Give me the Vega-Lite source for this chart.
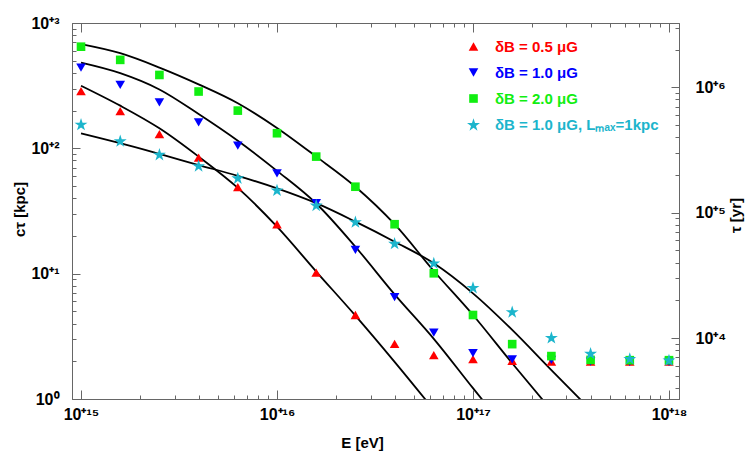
{
  "$schema": "https://vega.github.io/schema/vega-lite/v6.json",
  "width": 607,
  "height": 376,
  "autosize": "none",
  "padding": {"left": 72, "top": 23, "right": 68, "bottom": 63},
  "background": "white",
  "config": {
    "view": {"stroke": null},
    "font": "Liberation Sans",
    "axis": {
      "grid": false,
      "domainColor": "#666",
      "tickColor": "#666",
      "labelFont": "Liberation Sans",
      "labelFontWeight": "bold",
      "labelFontSize": 16,
      "labelColor": "black",
      "labelOverlap": false,
      "labelFlush": false,
      "labelBound": false,
      "titleFont": "Liberation Sans",
      "titleFontWeight": "bold",
      "titleFontSize": 15,
      "titleColor": "black"
    }
  },
  "datasets": {
    "pts": [
      {"series": "δB = 0.5 μG", "E": 1e15, "ctau": 286},
      {"series": "δB = 0.5 μG", "E": 1.585e15, "ctau": 198},
      {"series": "δB = 0.5 μG", "E": 2.512e15, "ctau": 130},
      {"series": "δB = 0.5 μG", "E": 3.981e15, "ctau": 84.3},
      {"series": "δB = 0.5 μG", "E": 6.31e15, "ctau": 49.0},
      {"series": "δB = 0.5 μG", "E": 1e16, "ctau": 24.8},
      {"series": "δB = 0.5 μG", "E": 1.585e16, "ctau": 10.2},
      {"series": "δB = 0.5 μG", "E": 2.512e16, "ctau": 4.68},
      {"series": "δB = 0.5 μG", "E": 3.981e16, "ctau": 2.75},
      {"series": "δB = 0.5 μG", "E": 6.31e16, "ctau": 2.24},
      {"series": "δB = 0.5 μG", "E": 1e17, "ctau": 2.08},
      {"series": "δB = 0.5 μG", "E": 1.585e17, "ctau": 2.02},
      {"series": "δB = 0.5 μG", "E": 2.512e17, "ctau": 1.99},
      {"series": "δB = 0.5 μG", "E": 3.981e17, "ctau": 1.99},
      {"series": "δB = 0.5 μG", "E": 6.31e17, "ctau": 1.99},
      {"series": "δB = 0.5 μG", "E": 1e18, "ctau": 1.99},
      {"series": "δB = 1.0 μG", "E": 1e15, "ctau": 441},
      {"series": "δB = 1.0 μG", "E": 1.585e15, "ctau": 321},
      {"series": "δB = 1.0 μG", "E": 2.512e15, "ctau": 233},
      {"series": "δB = 1.0 μG", "E": 3.981e15, "ctau": 161},
      {"series": "δB = 1.0 μG", "E": 6.31e15, "ctau": 105},
      {"series": "δB = 1.0 μG", "E": 1e16, "ctau": 63.2},
      {"series": "δB = 1.0 μG", "E": 1.585e16, "ctau": 36.5},
      {"series": "δB = 1.0 μG", "E": 2.512e16, "ctau": 15.5},
      {"series": "δB = 1.0 μG", "E": 3.981e16, "ctau": 6.49},
      {"series": "δB = 1.0 μG", "E": 6.31e16, "ctau": 3.38},
      {"series": "δB = 1.0 μG", "E": 1e17, "ctau": 2.32},
      {"series": "δB = 1.0 μG", "E": 1.585e17, "ctau": 2.07},
      {"series": "δB = 1.0 μG", "E": 2.512e17, "ctau": 2.05},
      {"series": "δB = 1.0 μG", "E": 3.981e17, "ctau": 1.99},
      {"series": "δB = 1.0 μG", "E": 6.31e17, "ctau": 1.98},
      {"series": "δB = 1.0 μG", "E": 1e18, "ctau": 1.98},
      {"series": "δB = 2.0 μG", "E": 1e15, "ctau": 647},
      {"series": "δB = 2.0 μG", "E": 1.585e15, "ctau": 508},
      {"series": "δB = 2.0 μG", "E": 2.512e15, "ctau": 385},
      {"series": "δB = 2.0 μG", "E": 3.981e15, "ctau": 284},
      {"series": "δB = 2.0 μG", "E": 6.31e15, "ctau": 200},
      {"series": "δB = 2.0 μG", "E": 1e16, "ctau": 132},
      {"series": "δB = 2.0 μG", "E": 1.585e16, "ctau": 85.9},
      {"series": "δB = 2.0 μG", "E": 2.512e16, "ctau": 49.4},
      {"series": "δB = 2.0 μG", "E": 3.981e16, "ctau": 24.8},
      {"series": "δB = 2.0 μG", "E": 6.31e16, "ctau": 10.07},
      {"series": "δB = 2.0 μG", "E": 1e17, "ctau": 4.68},
      {"series": "δB = 2.0 μG", "E": 1.585e17, "ctau": 2.74},
      {"series": "δB = 2.0 μG", "E": 2.512e17, "ctau": 2.20},
      {"series": "δB = 2.0 μG", "E": 3.981e17, "ctau": 2.05},
      {"series": "δB = 2.0 μG", "E": 6.31e17, "ctau": 2.04},
      {"series": "δB = 2.0 μG", "E": 1e18, "ctau": 2.04},
      {"series": "δB = 1.0 μG, Lₘₐₓ=1kpc", "E": 1e15, "ctau": 156},
      {"series": "δB = 1.0 μG, Lₘₐₓ=1kpc", "E": 1.585e15, "ctau": 115},
      {"series": "δB = 1.0 μG, Lₘₐₓ=1kpc", "E": 2.512e15, "ctau": 89.7},
      {"series": "δB = 1.0 μG, Lₘₐₓ=1kpc", "E": 3.981e15, "ctau": 72.8},
      {"series": "δB = 1.0 μG, Lₘₐₓ=1kpc", "E": 6.31e15, "ctau": 58.2},
      {"series": "δB = 1.0 μG, Lₘₐₓ=1kpc", "E": 1e16, "ctau": 46.6},
      {"series": "δB = 1.0 μG, Lₘₐₓ=1kpc", "E": 1.585e16, "ctau": 35.3},
      {"series": "δB = 1.0 μG, Lₘₐₓ=1kpc", "E": 2.512e16, "ctau": 26.0},
      {"series": "δB = 1.0 μG, Lₘₐₓ=1kpc", "E": 3.981e16, "ctau": 17.5},
      {"series": "δB = 1.0 μG, Lₘₐₓ=1kpc", "E": 6.31e16, "ctau": 12.2},
      {"series": "δB = 1.0 μG, Lₘₐₓ=1kpc", "E": 1e17, "ctau": 7.78},
      {"series": "δB = 1.0 μG, Lₘₐₓ=1kpc", "E": 1.585e17, "ctau": 4.98},
      {"series": "δB = 1.0 μG, Lₘₐₓ=1kpc", "E": 2.512e17, "ctau": 3.10},
      {"series": "δB = 1.0 μG, Lₘₐₓ=1kpc", "E": 3.981e17, "ctau": 2.32},
      {"series": "δB = 1.0 μG, Lₘₐₓ=1kpc", "E": 6.31e17, "ctau": 2.11},
      {"series": "δB = 1.0 μG, Lₘₐₓ=1kpc", "E": 1e18, "ctau": 2.05}
    ],
    "curves": [
      {"curve": "a", "E": 1e15, "ctau": 316},
      {"curve": "a", "E": 1.585e15, "ctau": 219},
      {"curve": "a", "E": 2.512e15, "ctau": 144.5},
      {"curve": "a", "E": 3.981e15, "ctau": 85.9},
      {"curve": "a", "E": 6.31e15, "ctau": 48.3},
      {"curve": "a", "E": 1e16, "ctau": 23.7},
      {"curve": "a", "E": 1.585e16, "ctau": 10.4},
      {"curve": "a", "E": 2.512e16, "ctau": 4.63},
      {"curve": "a", "E": 3.981e16, "ctau": 1.98},
      {"curve": "a", "E": 6.31e16, "ctau": 0.82},
      {"curve": "b", "E": 1e15, "ctau": 483},
      {"curve": "b", "E": 1.585e15, "ctau": 398},
      {"curve": "b", "E": 2.512e15, "ctau": 295},
      {"curve": "b", "E": 3.981e15, "ctau": 188},
      {"curve": "b", "E": 6.31e15, "ctau": 115},
      {"curve": "b", "E": 1e16, "ctau": 66.1},
      {"curve": "b", "E": 1.585e16, "ctau": 36.3},
      {"curve": "b", "E": 2.512e16, "ctau": 16.4},
      {"curve": "b", "E": 3.981e16, "ctau": 6.84},
      {"curve": "b", "E": 6.31e16, "ctau": 3.02},
      {"curve": "b", "E": 1e17, "ctau": 1.22},
      {"curve": "b", "E": 1.585e17, "ctau": 0.5},
      {"curve": "c", "E": 1e15, "ctau": 678},
      {"curve": "c", "E": 1.585e15, "ctau": 574},
      {"curve": "c", "E": 2.512e15, "ctau": 441},
      {"curve": "c", "E": 3.981e15, "ctau": 324},
      {"curve": "c", "E": 6.31e15, "ctau": 229},
      {"curve": "c", "E": 1e16, "ctau": 145.5},
      {"curve": "c", "E": 1.585e16, "ctau": 85.9},
      {"curve": "c", "E": 2.512e16, "ctau": 49.4},
      {"curve": "c", "E": 3.981e16, "ctau": 24.8},
      {"curve": "c", "E": 6.31e16, "ctau": 10.5},
      {"curve": "c", "E": 1e17, "ctau": 4.68},
      {"curve": "c", "E": 1.585e17, "ctau": 1.93},
      {"curve": "c", "E": 2.512e17, "ctau": 0.813},
      {"curve": "d", "E": 1e15, "ctau": 131.8},
      {"curve": "d", "E": 1.585e15, "ctau": 109.9},
      {"curve": "d", "E": 2.512e15, "ctau": 90.2},
      {"curve": "d", "E": 3.981e15, "ctau": 73.6},
      {"curve": "d", "E": 6.31e15, "ctau": 60.3},
      {"curve": "d", "E": 1e16, "ctau": 47.9},
      {"curve": "d", "E": 1.585e16, "ctau": 36.5},
      {"curve": "d", "E": 2.512e16, "ctau": 26.0},
      {"curve": "d", "E": 3.981e16, "ctau": 18.0},
      {"curve": "d", "E": 6.31e16, "ctau": 12.1},
      {"curve": "d", "E": 1e17, "ctau": 6.97},
      {"curve": "d", "E": 1.585e17, "ctau": 3.56},
      {"curve": "d", "E": 2.512e17, "ctau": 1.7},
      {"curve": "d", "E": 3.981e17, "ctau": 0.82}
    ]
  },
  "layer": [
    {
      "data": {"name": "curves"},
      "mark": {"type": "line", "color": "black", "strokeWidth": 1.8, "clip": true, "interpolate": "monotone"},
      "encoding": {
        "x": {
          "field": "E", "type": "quantitative",
          "scale": {"type": "log", "domain": [8.995e14, 1.125e18], "nice": false},
          "axis": {
            "orient": "bottom", "values": [1e15, 1e16, 1e17, 1e18],
            "labelExpr": "datum.value < 5e15 ? '10⁺¹⁵' : datum.value < 5e16 ? '10⁺¹⁶' : datum.value < 5e17 ? '10⁺¹⁷' : '10⁺¹⁸'",
            "tickSize": -9, "labelPadding": 16,
            "title": "E [eV]", "titleX": 290, "titleY": 43, "titleBaseline": "middle"
          }
        },
        "y": {
          "field": "ctau", "type": "quantitative",
          "scale": {"type": "log", "domain": [1, 1000], "nice": false},
          "axis": {
            "orient": "left", "values": [1, 10, 100, 1000],
            "labelExpr": "datum.value < 5 ? '10⁰' : datum.value < 50 ? '10⁺¹' : datum.value < 500 ? '10⁺²' : '10⁺³'",
            "tickSize": -8, "labelPadding": 21,
            "title": "cτ [kpc]", "titleX": -53, "titleY": 186, "titleAngle": 270, "titleBaseline": "middle", "titleAlign": "center"
          }
        },
        "detail": {"field": "curve"}
      }
    },
    {
      "data": {"name": "pts"},
      "mark": {"type": "point", "filled": true, "opacity": 1, "size": 92},
      "encoding": {
        "x": {
          "field": "E", "type": "quantitative",
          "scale": {"type": "log", "domain": [8.995e14, 1.125e18], "nice": false},
          "axis": {
            "orient": "bottom",
            "values": [2e15, 3e15, 4e15, 5e15, 6e15, 7e15, 8e15, 9e15, 2e16, 3e16, 4e16, 5e16, 6e16, 7e16, 8e16, 9e16, 2e17, 3e17, 4e17, 5e17, 6e17, 7e17, 8e17, 9e17],
            "labels": false, "tickSize": -4, "title": null
          }
        },
        "y": {
          "field": "ctau", "type": "quantitative",
          "scale": {"type": "log", "domain": [1, 1000], "nice": false},
          "axis": {
            "orient": "left",
            "values": [2, 3, 4, 5, 6, 7, 8, 9, 20, 30, 40, 50, 60, 70, 80, 90, 200, 300, 400, 500, 600, 700, 800, 900],
            "labels": false, "tickSize": -4, "title": null
          }
        },
        "color": {
          "field": "series", "type": "nominal",
          "scale": {
            "domain": ["δB = 0.5 μG", "δB = 1.0 μG", "δB = 2.0 μG", "δB = 1.0 μG, Lₘₐₓ=1kpc"],
            "range": ["#ff0000", "#0000ff", "#11ee11", "#1cb5cc"]
          },
          "legend": {
            "orient": "none", "legendX": 394, "legendY": 16, "title": null, "padding": 0,
            "labelFont": "Liberation Sans", "labelFontWeight": "bold", "labelFontSize": 15, "labelLimit": 400,
            "labelOffset": 14, "rowPadding": 10, "symbolSize": 92, "symbolStrokeWidth": 0,
            "labelColor": {"expr": "scale('color', datum.value)"}
          }
        },
        "shape": {
          "field": "series", "type": "nominal",
          "scale": {
            "domain": ["δB = 0.5 μG", "δB = 1.0 μG", "δB = 2.0 μG", "δB = 1.0 μG, Lₘₐₓ=1kpc"],
            "range": ["triangle-up", "triangle-down", "M-0.9,-0.9L0.9,-0.9L0.9,0.9L-0.9,0.9Z", "M0,-1.28L0.319,-0.3L1.35,-0.3L0.516,0.3L0.834,1.28L0,0.68L-0.834,1.28L-0.516,0.3L-1.35,-0.3L-0.319,-0.3Z"]
          },
          "legend": {
            "orient": "none", "legendX": 394, "legendY": 16, "title": null, "padding": 0,
            "labelFont": "Liberation Sans", "labelFontWeight": "bold", "labelFontSize": 15, "labelLimit": 400,
            "labelOffset": 14, "rowPadding": 10, "symbolSize": 92, "symbolStrokeWidth": 0,
            "labelColor": {"expr": "scale('color', datum.value)"}
          }
        }
      }
    },
    {
      "data": {"name": "curves"},
      "mark": {"type": "point", "opacity": 0},
      "encoding": {
        "x": {
          "field": "E", "type": "quantitative",
          "scale": {"type": "log", "domain": [8.995e14, 1.125e18], "nice": false},
          "axis": {"orient": "top", "values": [1e15, 1e16, 1e17, 1e18], "labels": false, "tickSize": -9, "title": null}
        },
        "y": {
          "field": "ctau", "type": "quantitative",
          "scale": {"type": "log", "domain": [3261.6, 3261600], "nice": false},
          "axis": {
            "orient": "right", "values": [10000, 100000, 1000000],
            "labelExpr": "datum.value < 5e4 ? '10⁺⁴' : datum.value < 5e5 ? '10⁺⁵' : '10⁺⁶'",
            "tickSize": -8, "labelPadding": 24,
            "title": "τ [yr]", "titleX": 56, "titleY": 192, "titleAngle": 270, "titleBaseline": "middle", "titleAlign": "center"
          }
        }
      }
    },
    {
      "data": {"name": "curves"},
      "mark": {"type": "point", "opacity": 0},
      "encoding": {
        "x": {
          "field": "E", "type": "quantitative",
          "scale": {"type": "log", "domain": [8.995e14, 1.125e18], "nice": false},
          "axis": {
            "orient": "top",
            "values": [2e15, 3e15, 4e15, 5e15, 6e15, 7e15, 8e15, 9e15, 2e16, 3e16, 4e16, 5e16, 6e16, 7e16, 8e16, 9e16, 2e17, 3e17, 4e17, 5e17, 6e17, 7e17, 8e17, 9e17],
            "labels": false, "tickSize": -4, "title": null
          }
        },
        "y": {
          "field": "ctau", "type": "quantitative",
          "scale": {"type": "log", "domain": [3261.6, 3261600], "nice": false},
          "axis": {
            "orient": "right",
            "values": [4000, 5000, 6000, 7000, 8000, 9000, 20000, 30000, 40000, 50000, 60000, 70000, 80000, 90000, 200000, 300000, 400000, 500000, 600000, 700000, 800000, 900000, 2000000, 3000000],
            "labels": false, "tickSize": -4, "title": null
          }
        }
      }
    }
  ],
  "resolve": {"scale": {"y": "independent"}, "axis": {"x": "independent", "y": "independent"}}
}
